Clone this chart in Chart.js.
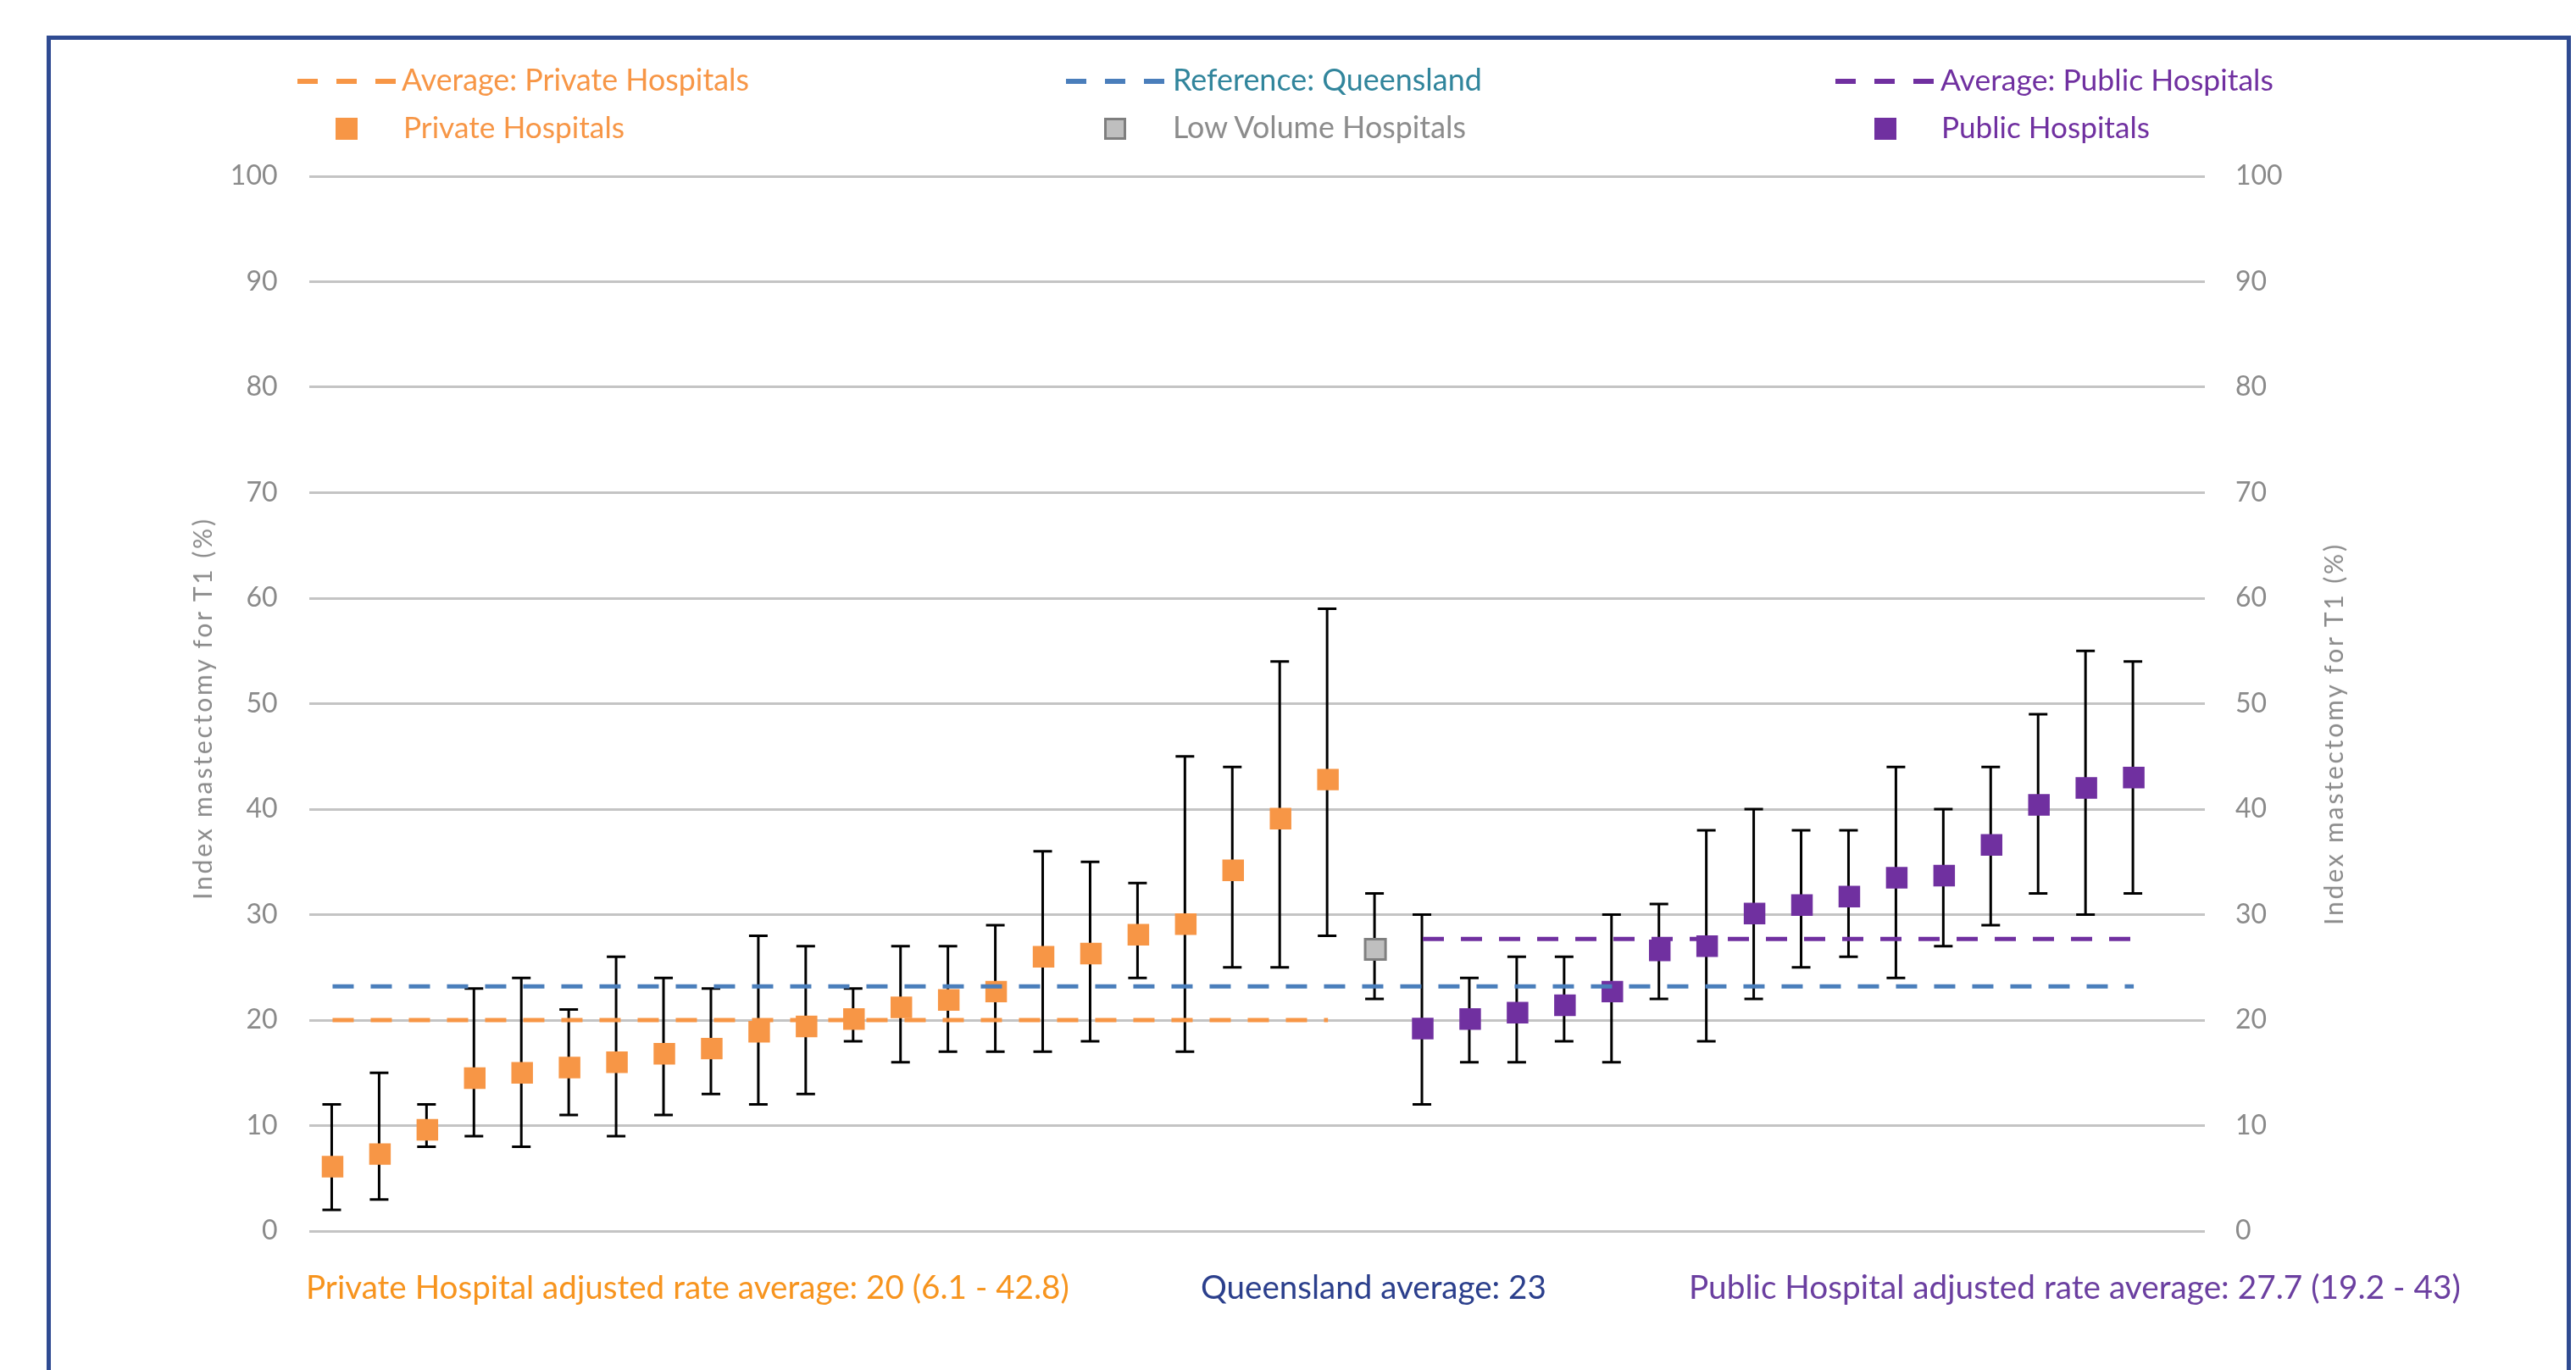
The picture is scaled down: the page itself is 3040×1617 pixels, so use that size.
<!DOCTYPE html>
<html>
<head>
<meta charset="utf-8">
<title>Index mastectomy for T1</title>
<script src="https://cdn.jsdelivr.net/npm/chart.js@4.4.1/dist/chart.umd.min.js"></script>
<style>
  html, body { margin: 0; padding: 0; background: #fff; }
  body { width: 3040px; height: 1617px; position: relative; overflow: hidden; font-family: Lato, 'Open Sans', sans-serif; }
  #frame { position: absolute; left: 55px; top: 42px; width: 2979px; height: 1700px; border: 5px solid #2f4b92; box-sizing: border-box; }
  #myChart { position: absolute; left: 0; top: 0; }
  .txt { position: absolute; white-space: nowrap; line-height: 1; transform: translateY(-50%); }
  .dash { position: absolute; height: 6px; width: 116px; transform: translateY(-50%); }
  .sq { position: absolute; width: 26px; height: 26px; box-sizing: border-box; transform: translateY(-50%); }
  .ytitle { position: absolute; white-space: nowrap; line-height: 1; color: #8a8a8a; font-size: 30px; transform: translate(-50%, -50%) rotate(-90deg); }
</style>
</head>
<body>
<div id="frame"></div>
<canvas id="myChart" width="3040" height="1617"></canvas>
<script>
// values (%), hospitals sorted within each group
const privateRate  = [6.1, 7.3, 9.6, 14.5, 15.0, 15.5, 16.0, 16.8, 17.3, 18.9, 19.4, 20.1, 21.2, 21.9, 22.7, 26.0, 26.3, 28.1, 29.1, 34.2, 39.1, 42.8];
const privateLower = [2, 3, 8, 9, 8, 11, 9, 11, 13, 12, 13, 18, 16, 17, 17, 17, 18, 24, 17, 25, 25, 28];
const privateUpper = [12, 15, 12, 23, 24, 21, 26, 24, 23, 28, 27, 23, 27, 27, 29, 36, 35, 33, 45, 44, 54, 59];

const lowVolumeRate  = [26.7];
const lowVolumeLower = [22];
const lowVolumeUpper = [32];

const publicRate  = [19.2, 20.1, 20.7, 21.4, 22.7, 26.6, 27.0, 30.1, 30.9, 31.7, 33.5, 33.7, 36.6, 40.4, 42.0, 43.0];
const publicLower = [12, 16, 16, 18, 16, 22, 18, 22, 25, 26, 24, 27, 29, 32, 30, 32];
const publicUpper = [30, 24, 26, 26, 30, 31, 38, 40, 38, 38, 44, 40, 44, 49, 55, 54];

const avgPrivate = 20;
const refQueensland = 23.2;
const avgPublic = 27.7;

const yTicks = [0, 10, 20, 30, 40, 50, 60, 70, 80, 90, 100];

const yTitle = 'Index mastectomy for T1 (%)';
const notes = [
    'Private Hospital adjusted rate average: 20 (6.1 - 42.8)',
    'Queensland average: 23',
    'Public Hospital adjusted rate average: 27.7 (19.2 - 43)'
];

// one slot per hospital, plus an empty slot at the end like the original sheet
const categories = [
    ...privateRate.map((v, i) => 'Private ' + (i + 1)),
    ...lowVolumeRate.map((v, i) => 'Low volume ' + (i + 1)),
    ...publicRate.map((v, i) => 'Public ' + (i + 1)),
    ''
];

const nPrivate = privateRate.length;
const nLow = lowVolumeRate.length;
const nPublic = publicRate.length;

// put a group's values into the full category list
const place = (arr, start) => {
    const out = new Array(categories.length).fill(null);
    arr.forEach((v, i) => { out[start + i] = v; });
    return out;
};

const lowerAll = [...privateLower, ...lowVolumeLower, ...publicLower];
const upperAll = [...privateUpper, ...lowVolumeUpper, ...publicUpper];

const orange = '#f79646';
const blue = '#4a7ebb';
const purple = '#7030a0';

// black whiskers with caps, under the markers
const errorBars = {
    id: 'errorBars',
    beforeDatasetsDraw(chart) {
        const { ctx, scales: { x, y } } = chart;
        ctx.save();
        ctx.strokeStyle = '#000';
        ctx.lineWidth = 3;
        lowerAll.forEach((lo, i) => {
            const px = x.getPixelForValue(i) - 1;
            const yLo = y.getPixelForValue(lo);
            const yHi = y.getPixelForValue(upperAll[i]);
            ctx.beginPath();
            ctx.moveTo(px, yLo); ctx.lineTo(px, yHi);
            ctx.moveTo(px - 11, yLo); ctx.lineTo(px + 11, yLo);
            ctx.moveTo(px - 11, yHi); ctx.lineTo(px + 11, yHi);
            ctx.stroke();
        });
        ctx.restore();
    }
};

const dashed = (label, data, color) => ({
    label, data,
    borderColor: color,
    borderWidth: 5,
    borderDash: [25, 20],
    borderCapStyle: 'butt',
    pointRadius: 0,
    fill: false
});

const markers = (label, data, fillColor, edgeColor, edgeWidth, radius) => ({
    label, data,
    showLine: false,
    pointStyle: 'rect',
    pointRadius: radius,
    backgroundColor: fillColor,
    borderColor: edgeColor,
    pointBorderWidth: edgeWidth,
    pointBackgroundColor: fillColor,
    pointBorderColor: edgeColor
});

const tickFont = { family: 'Lato', size: 32 };

const chart = new Chart(document.getElementById('myChart'), {
    type: 'line',
    data: {
        labels: categories,
        datasets: [
            dashed('Average: Private Hospitals', place(privateRate.map(() => avgPrivate), 0), orange),
            dashed('Reference: Queensland', place(categories.slice(0, nPrivate + nLow + nPublic).map(() => refQueensland), 0), blue),
            dashed('Average: Public Hospitals', place(publicRate.map(() => avgPublic), nPrivate + nLow), purple),
            markers('Private Hospitals', place(privateRate, 0), orange, orange, 0, 18),
            markers('Low Volume Hospitals', place(lowVolumeRate, nPrivate), '#bfbfbf', '#7f7f7f', 3, 17),
            markers('Public Hospitals', place(publicRate, nPrivate + nLow), purple, purple, 0, 18)
        ]
    },
    options: {
        responsive: false,
        animation: false,
        events: [],
        layout: { padding: { left: 0, right: 0, top: 208, bottom: 164 } },
        scales: {
            x: { type: 'category', offset: true, display: false },
            y: {
                position: 'left',
                min: 0, max: 100,
                afterBuildTicks: (scale) => { scale.ticks = yTicks.map((v) => ({ value: v })); },
                afterFit: (scale) => { scale.width = 364.5; },
                ticks: { padding: 37, font: tickFont, color: '#8a8a8a' },
                grid: { color: '#c4c4c4', lineWidth: 3, drawTicks: false },
                border: { display: false }
            },
            y2: {
                position: 'right',
                min: 0, max: 100,
                afterBuildTicks: (scale) => { scale.ticks = yTicks.map((v) => ({ value: v })); },
                afterFit: (scale) => { scale.width = 438; },
                ticks: { padding: 36, font: tickFont, color: '#8a8a8a' },
                grid: { display: false, drawTicks: false },
                border: { display: false }
            }
        },
        plugins: {
            legend: { display: false },
            tooltip: { enabled: false }
        }
    },
    plugins: [errorBars]
});

// text box with its width matched to the original
function addText(str, left, centerY, width, color, cls) {
    const el = document.createElement('div');
    el.className = cls || 'txt';
    el.textContent = str;
    el.style.color = color;
    el.style.left = left + 'px';
    el.style.top = centerY + 'px';
    el.style.fontSize = '100px';
    document.body.appendChild(el);
    const w = el.getBoundingClientRect().width;
    el.style.fontSize = (100 * width / w) + 'px';
    return el;
}

// legend, laid out in three columns like the original
const legendSpots = {
    'Average: Private Hospitals': { mark: 351, text: 474, y: 96, w: 410, color: orange },
    'Reference: Queensland': { mark: 1258, text: 1384, y: 96, w: 365, color: '#31859c' },
    'Average: Public Hospitals': { mark: 2166, text: 2290, y: 96, w: 393, color: purple },
    'Private Hospitals': { mark: 396, text: 476, y: 152, w: 261, color: orange },
    'Low Volume Hospitals': { mark: 1303, text: 1384, y: 152, w: 346, color: '#8c8c8c' },
    'Public Hospitals': { mark: 2212, text: 2291, y: 152, w: 246, color: purple }
};

chart.data.datasets.forEach((ds) => {
    const spot = legendSpots[ds.label];
    const mark = document.createElement('div');
    if (ds.showLine === false) {
        mark.className = 'sq';
        mark.style.background = ds.backgroundColor;
        if (ds.pointBorderWidth) mark.style.border = '3px solid ' + ds.borderColor;
    } else {
        mark.className = 'dash';
        mark.style.background = 'repeating-linear-gradient(to right, ' + ds.borderColor + ' 0 24px, transparent 24px 46px)';
    }
    mark.style.left = spot.mark + 'px';
    mark.style.top = spot.y + 'px';
    document.body.appendChild(mark);
    addText(ds.label, spot.text, spot.y - 2, spot.w, spot.color);
});

// notes under the plot
addText(notes[0], 361, 1518, 901, '#f7941e');
addText(notes[1], 1417, 1518, 408, '#2b3f8c');
addText(notes[2], 1993, 1518, 911, '#6b3fa0');

// y axis titles on both sides
[[238, 836], [2753, 866]].forEach(([cx, cy]) => {
    const el = document.createElement('div');
    el.className = 'ytitle';
    el.textContent = yTitle;
    el.style.left = cx + 'px';
    el.style.top = cy + 'px';
    document.body.appendChild(el);
    const w = el.offsetWidth;
    el.style.letterSpacing = ((452 - w) / yTitle.length) + 'px';
});
</script>
</body>
</html>
